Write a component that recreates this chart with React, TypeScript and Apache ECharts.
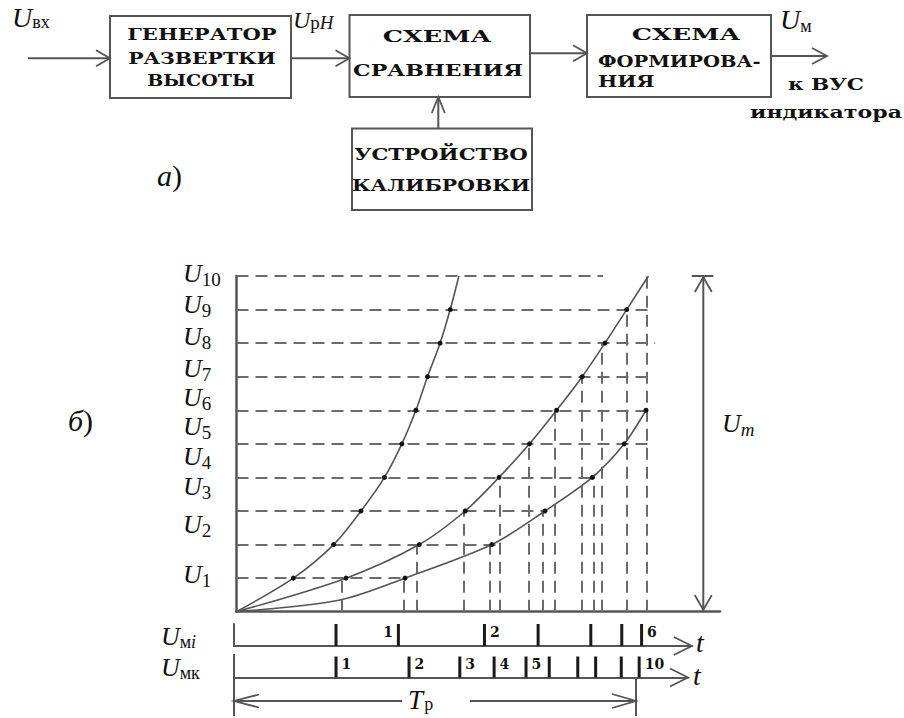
import React, { useEffect, useRef } from "react";
import * as echarts from "echarts";

// ---------- data ----------
const LEVELS = [1, 2, 3, 4, 5, 6, 7, 8, 9, 10];
const LEVEL_SUBS = ["1", "2", "3", "4", "5", "6", "7", "8", "9", "10"];
// time (arbitrary units, 0..100) at which each curve crosses U1, U2, ...
const curve1T = [11.75, 20.1, 25.75, 30.6, 34.2, 37.1, 39.5, 42.1, 44.2];
const curve1TopT = 46.0;
const curve2T = [22.65, 37.8, 47.3, 54.3, 60.6, 66.2, 71.5, 76.2, 80.7];
const curve2TopT = 85.2;
const curve3T = [34.85, 52.8, 63.8, 73.6, 80.2, 84.7];
const curve3Early: [number, number] = [21.4, 0.35];
// horizontal dashed lines: end time for U1..U10
const hLineEndT = [35.3, 54.5, 63.8, 73.7, 85.5, 86.1, 86.1, 86.6, 86.1, 75.8];
// vertical dashed lines: time and level at which they start
const vLineT = [21.75, 34.6, 37.3, 46.9, 52.3, 54.5, 60.35, 63.3, 65.9, 71.5, 73.9, 75.5, 80.7, 84.9];
const vLineTop = [1, 1, 2, 3, 2, 4, 5, 3, 6, 7, 4, 8, 9, 10];
// pulse trains
const miPulseT = [21.1, 34.0, 51.8, 62.9, 73.8, 80.2, 84.3];
const miPulseLabel = ["", "1", "2", "", "", "", "6"];
const mkPulseT = [21.1, 36.2, 46.7, 53.8, 60.4, 65.2, 71.1, 74.8, 80.1, 83.8];
const mkPulseLabel = ["1", "2", "3", "4", "5", "", "", "", "", "10"];

// ---------- layout ----------
const SCALE = 4.835; // px per time unit
const MI_MAX = 94.7;
const MK_MAX = 93.9;
const LABEL_BASE_Y = [583, 533, 495, 465, 435, 406, 377, 345, 313, 282];
const SERIF = '"Liberation Serif", "Times New Roman", serif';
const BLOCK = '"DejaVu Serif", serif';
const INK = "#111";
const LINE = "#555";

type Seg = { t: string; it?: boolean };

function subLabel(
  x: number,
  base: number,
  main: string,
  segs: Seg[],
  size: number,
  subSize: number,
  drop = 4,
  adv = 0.72
): any[] {
  return [
    {
      type: "text",
      x,
      y: base - 0.34 * size,
      style: {
        text: main,
        fontFamily: SERIF,
        fontStyle: "italic",
        fontSize: size,
        fill: INK,
        align: "left",
        verticalAlign: "middle",
      },
    },
    {
      type: "text",
      x: x + adv * size,
      y: base + drop - 0.34 * subSize,
      style: {
        text: segs.map((s) => `{${s.it ? "i" : "r"}|${s.t}}`).join(""),
        rich: {
          i: { fontFamily: SERIF, fontStyle: "italic", fontSize: subSize, fill: INK },
          r: { fontFamily: SERIF, fontSize: subSize, fill: INK },
        },
        fontFamily: SERIF,
        fontSize: subSize,
        fill: INK,
        align: "left",
        verticalAlign: "middle",
      },
    },
  ];
}

function line(x1: number, y1: number, x2: number, y2: number, w = 2, c = LINE): any {
  return { type: "line", shape: { x1, y1, x2, y2 }, style: { stroke: c, lineWidth: w } };
}

function head(x: number, y: number, dx: number, dy: number, len = 15, spread = 8, w = 1.8): any {
  const bx = x - dx * len;
  const by = y - dy * len;
  const px = -dy;
  const py = dx;
  return {
    type: "polyline",
    shape: {
      points: [
        [bx + px * spread, by + py * spread],
        [x, y],
        [bx - px * spread, by - py * spread],
      ],
    },
    style: { stroke: LINE, lineWidth: w, fill: "none" },
  };
}

function btext(text: string, x: number, y: number, sx = 1.2, align = "center", size = 17): any {
  return {
    type: "text",
    x,
    y,
    scaleX: sx,
    style: {
      text,
      fontFamily: BLOCK,
      fontWeight: "bold",
      fontSize: size,
      fill: INK,
      align,
      verticalAlign: "middle",
    },
  };
}

function box(x: number, y: number, w: number, h: number): any {
  return { type: "rect", shape: { x, y, width: w, height: h }, style: { stroke: LINE, lineWidth: 2, fill: "none" } };
}

function curveData(ts: number[], top?: number, early?: [number, number]) {
  const d: any[] = [{ value: [0, 0], symbol: "none" }];
  if (early) d.push({ value: early, symbol: "none" });
  ts.forEach((t, i) => d.push({ value: [t, LEVELS[i]] }));
  if (top !== undefined) d.push({ value: [top, LEVELS[LEVELS.length - 1]], symbol: "none" });
  return d;
}

function pulseData(ts: number[], labels: string[], leftIdx: number[] = []) {
  return ts.map((t, i) => ({
    value: [t, 1],
    label: labels[i]
      ? {
          show: true,
          formatter: labels[i],
          position: leftIdx.includes(i) ? "left" : "right",
          distance: 4,
          offset: [0, -3],
        }
      : { show: false },
  }));
}

export default function App() {
  const ref = useRef<HTMLDivElement>(null);
  useEffect(() => {
    if (!ref.current) return;
    const chart = echarts.init(ref.current, undefined, { renderer: "svg" });

    const hidden = {
      axisTick: { show: false },
      axisLabel: { show: false },
      splitLine: { show: false },
    };

    const curveStyle = {
      type: "line",
      xAxisIndex: 0,
      yAxisIndex: 0,
      smooth: 0.3,
      symbol: "circle",
      symbolSize: 5,
      showSymbol: true,
      itemStyle: { color: INK },
      lineStyle: { color: LINE, width: 1.6 },
      z: 5,
      silent: true,
    };

    const dashData: any[] = [];
    LEVELS.forEach((lv, i) => dashData.push([{ coord: [0, lv] }, { coord: [hLineEndT[i], lv] }]));
    vLineT.forEach((t, i) => dashData.push([{ coord: [t, 0] }, { coord: [t, vLineTop[i]] }]));

    const graphic: any[] = [];
    // ---- block diagram ----
    graphic.push(box(110, 16, 181, 82), box(349.5, 15, 180.5, 82), box(587, 15, 184, 82), box(352, 128.5, 180, 81.5));
    graphic.push(
      btext("ГЕНЕРАТОР", 202, 34, 1.24),
      btext("РАЗВЕРТКИ", 202, 58, 1.2),
      btext("ВЫСОТЫ", 201, 80, 1.12),
      btext("СХЕМА", 437, 36, 1.5),
      btext("СРАВНЕНИЯ", 438, 70, 1.3),
      btext("СХЕМА", 686, 34, 1.5),
      btext("ФОРМИРОВА-", 598, 61, 1.15, "left"),
      btext("НИЯ", 598, 81, 1.2, "left"),
      btext("УСТРОЙСТВО", 441, 154, 1.25),
      btext("КАЛИБРОВКИ", 441, 185, 1.2),
      btext("к ВУС", 826, 84, 1.35, "center", 16),
      btext("индикатора", 826, 113, 1.38, "center", 16)
    );
    graphic.push(
      line(28, 58.3, 110, 58.3),
      head(110, 58.3, 1, 0, 14, 8),
      line(291, 58.3, 349.5, 58.3),
      head(349.5, 58.3, 1, 0, 14, 8),
      line(530, 53.3, 587, 53.3),
      head(587, 53.3, 1, 0, 14, 8),
      line(771, 56, 827, 56),
      head(827, 56, 1, 0, 15, 8),
      line(438.3, 128.5, 438.3, 97),
      head(438.3, 97, 0, -1, 16, 6.5)
    );
    graphic.push(
      ...subLabel(12, 27, "U", [{ t: "вх" }], 28, 18, 1),
      ...subLabel(293, 28, "U", [{ t: "р" }, { t: "H", it: true }], 24, 19, 1),
      ...subLabel(780, 29, "U", [{ t: "м" }], 28, 18, 3)
    );
    graphic.push({
      type: "text",
      x: 157,
      y: 175,
      style: {
        text: "{i|а}{r|)}",
        rich: {
          i: { fontFamily: SERIF, fontStyle: "italic", fontSize: 30, fill: INK },
          r: { fontFamily: SERIF, fontSize: 30, fill: INK },
        },
        fontSize: 30,
        align: "left",
        verticalAlign: "middle",
      },
    });
    graphic.push({
      type: "text",
      x: 68,
      y: 420,
      style: {
        text: "{i|б}{r|)}",
        rich: {
          i: { fontFamily: SERIF, fontStyle: "italic", fontSize: 30, fill: INK },
          r: { fontFamily: SERIF, fontSize: 30, fill: INK },
        },
        fontSize: 30,
        align: "left",
        verticalAlign: "middle",
      },
    });
    // ---- level labels ----
    LEVEL_SUBS.forEach((s, i) => graphic.push(...subLabel(183, LABEL_BASE_Y[i], "U", [{ t: s }], 26, 19, 4)));
    // ---- U_m dimension ----
    graphic.push(
      line(703.3, 277, 703.3, 611),
      line(691.7, 276, 713.3, 276),
      head(703.3, 277, 0, -1, 15, 8.5),
      head(703.3, 610, 0, 1, 15, 8.5),
      ...subLabel(722, 432, "U", [{ t: "m", it: true }], 26, 19, 4)
    );
    // ---- pulse rows ----
    graphic.push(
      head(234 + MI_MAX * SCALE, 646, 1, 0, 18, 9),
      head(234 + MK_MAX * SCALE, 677.5, 1, 0, 18, 9),
      {
        type: "text",
        x: 696,
        y: 642,
        style: { text: "t", fontFamily: SERIF, fontStyle: "italic", fontSize: 28, fill: INK, align: "left", verticalAlign: "middle" },
      },
      {
        type: "text",
        x: 693,
        y: 675,
        style: { text: "t", fontFamily: SERIF, fontStyle: "italic", fontSize: 28, fill: INK, align: "left", verticalAlign: "middle" },
      },
      ...subLabel(161, 645, "U", [{ t: "м" }, { t: "i", it: true }], 26, 18, 3),
      ...subLabel(161, 676, "U", [{ t: "мк" }], 26, 18, 3)
    );
    // ---- T_p ----
    graphic.push(
      line(234, 654, 234, 716),
      line(636, 678, 636, 716),
      line(234, 701, 402, 701),
      line(470, 701, 636, 701),
      head(234, 701, -1, 0, 25, 6.5),
      head(636, 701, 1, 0, 24, 7),
      ...subLabel(408, 709, "T", [{ t: "р" }], 27, 18, 1, 0.6)
    );

    const pulseLabel = { fontFamily: BLOCK, fontWeight: "bold", fontSize: 14, color: INK };

    chart.setOption({
      animation: false,
      backgroundColor: "#fff",
      grid: [
        { left: 236.5, top: 276, width: 100 * SCALE, height: 335.7 },
        { left: 234, top: 624, width: MI_MAX * SCALE, height: 22 },
        { left: 234, top: 656.5, width: MK_MAX * SCALE, height: 21 },
      ],
      xAxis: [
        { gridIndex: 0, type: "value", min: 0, max: 100, axisLine: { show: true, onZero: false, lineStyle: { color: LINE, width: 2.5 } }, ...hidden },
        { gridIndex: 1, type: "value", min: 0, max: MI_MAX, axisLine: { show: true, onZero: false, lineStyle: { color: LINE, width: 2 } }, ...hidden },
        { gridIndex: 2, type: "value", min: 0, max: MK_MAX, axisLine: { show: true, onZero: false, lineStyle: { color: LINE, width: 2 } }, ...hidden },
      ],
      yAxis: [
        { gridIndex: 0, type: "value", min: 0, max: 10, axisLine: { show: true, onZero: false, lineStyle: { color: LINE, width: 2.5 } }, ...hidden },
        { gridIndex: 1, type: "value", min: 0, max: 1, axisLine: { show: true, onZero: false, lineStyle: { color: LINE, width: 2 } }, ...hidden },
        { gridIndex: 2, type: "value", min: 0, max: 1, axisLine: { show: true, onZero: false, lineStyle: { color: LINE, width: 2 } }, ...hidden },
      ],
      series: [
        {
          type: "line",
          name: "dashes",
          xAxisIndex: 0,
          yAxisIndex: 0,
          data: [],
          silent: true,
          markLine: {
            silent: true,
            symbol: ["none", "none"],
            label: { show: false },
            lineStyle: { type: [12, 7], color: "#6b6b6b", width: 2 },
            data: dashData,
          },
        },
        { ...curveStyle, name: "c1", data: curveData(curve1T, curve1TopT) },
        { ...curveStyle, name: "c2", data: curveData(curve2T, curve2TopT) },
        { ...curveStyle, name: "c3", data: curveData(curve3T, undefined, curve3Early) },
        {
          type: "bar",
          name: "mi",
          xAxisIndex: 1,
          yAxisIndex: 1,
          barWidth: 3,
          silent: true,
          itemStyle: { color: "#1a1a1a" },
          label: pulseLabel,
          data: pulseData(miPulseT, miPulseLabel, [1]),
        },
        {
          type: "bar",
          name: "mk",
          xAxisIndex: 2,
          yAxisIndex: 2,
          barWidth: 3,
          silent: true,
          itemStyle: { color: "#1a1a1a" },
          label: pulseLabel,
          data: pulseData(mkPulseT, mkPulseLabel),
        },
      ],
      graphic,
    });
    return () => chart.dispose();
  }, []);

  return (
    <div
      ref={ref}
      style={{ position: "fixed", left: 0, top: 0, width: 904, height: 718, background: "#fff" }}
    />
  );
}
